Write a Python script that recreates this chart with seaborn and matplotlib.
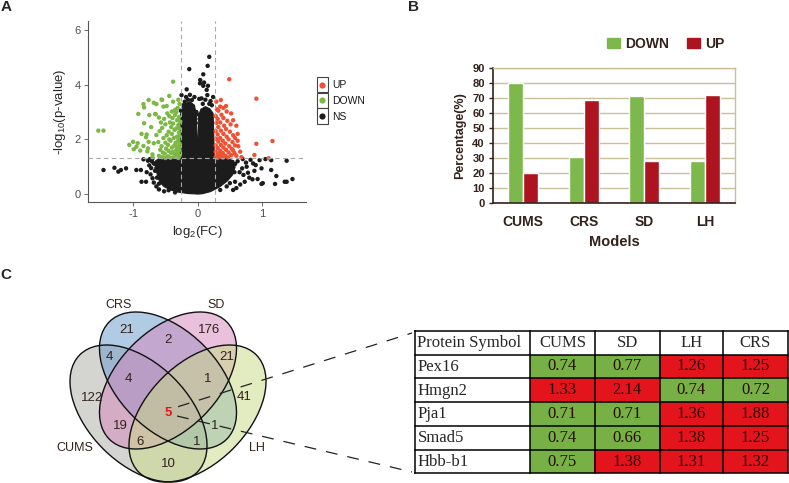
import numpy as np
import pandas as pd
import matplotlib.pyplot as plt
import seaborn as sns
from matplotlib.patches import Ellipse, Rectangle, Patch
from matplotlib.colors import ListedColormap

# ---------------- data ----------------
# A: volcano plot (log2 FC, -log10 p)
up_x = [0.49, 0.91, 1.16, 0.91, 0.88, 1.10, 0.36, 0.29, 0.30, 0.45, 0.52, 0.55, 0.60, 0.62, 0.58, 0.63, 0.66, 0.60, 0.68, 0.55,
        0.28, 0.28, 0.28, 0.29, 0.28, 0.29, 0.28, 0.31, 0.32, 0.31, 0.32, 0.31, 0.32, 0.31, 0.32,
        0.35, 0.35, 0.36, 0.35, 0.36, 0.35, 0.37, 0.39, 0.39, 0.40, 0.39, 0.40, 0.41, 0.40,
        0.43, 0.44, 0.43, 0.45, 0.44, 0.46, 0.47, 0.48, 0.49, 0.48, 0.50, 0.51,
        0.52, 0.53, 0.54, 0.55, 0.57, 0.58, 0.62, 0.40, 0.35, 0.44, 0.30, 0.33, 0.37]
up_y = [4.20, 3.49, 1.94, 1.84, 1.43, 1.31, 3.44, 3.38, 3.10, 3.02, 2.95, 2.70, 2.50, 2.20, 2.05, 1.75, 1.55, 1.40, 1.35, 1.60,
        1.35, 1.55, 1.78, 2.02, 2.30, 2.60, 2.85, 1.32, 1.48, 1.68, 1.92, 2.18, 2.45, 2.75, 3.05,
        1.38, 1.58, 1.80, 2.05, 2.32, 2.62, 2.90, 1.33, 1.50, 1.70, 1.95, 2.20, 2.50, 2.78,
        1.40, 1.62, 1.85, 2.10, 2.38, 2.68, 1.34, 1.52, 1.75, 2.00, 2.28, 2.55,
        1.42, 1.65, 1.90, 2.15, 1.50, 1.78, 1.95, 3.15, 3.20, 3.22, 1.45, 1.40, 1.46]

down_x = [-1.54, -1.46, -1.06, -1.00, -0.99, -0.93, -0.95, -0.89, -0.92, -0.84, -0.83, -0.83, -0.80, -0.84, -0.87,
          -0.77, -0.78, -0.76, -0.75, -0.79, -0.76, -0.68, -0.64, -0.65, -0.66, -0.64, -0.68, -0.56, -0.55, -0.53,
          -0.48, -0.44, -0.38, -0.38, -0.35, -0.70, -0.72, -0.70,
          -0.60, -0.58, -0.61, -0.59, -0.57, -0.60, -0.55, -0.54, -0.56, -0.53, -0.55, -0.52,
          -0.50, -0.51, -0.49, -0.50, -0.48, -0.50, -0.47, -0.46, -0.45, -0.46, -0.44, -0.45, -0.43, -0.44,
          -0.42, -0.41, -0.40, -0.42, -0.40, -0.41, -0.39, -0.40, -0.37, -0.38, -0.36, -0.37, -0.36, -0.38, -0.35,
          -0.34, -0.33, -0.34, -0.32, -0.33, -0.32, -0.33, -0.31, -0.30, -0.30, -0.29, -0.30, -0.29, -0.30, -0.29,
          -0.28, -0.28, -0.28, -0.28, -0.28, -0.27, -0.28, -0.30, -0.31, -0.35, -0.29, -0.33]
down_y = [2.32, 2.32, 1.80, 1.91, 1.64, 1.86, 1.73, 1.59, 2.93, 3.29, 3.17, 2.59, 2.08, 1.76, 2.20,
          1.67, 1.56, 3.44, 2.89, 2.18, 1.91, 3.34, 3.29, 2.92, 2.93, 2.16, 1.86, 3.46, 3.44, 3.20,
          3.22, 3.59, 4.11, 3.38, 3.08, 1.45, 2.45, 1.35,
          1.40, 1.62, 1.90, 2.30, 2.62, 2.80, 1.35, 1.52, 1.75, 2.05, 2.42, 2.75,
          1.32, 1.48, 1.66, 1.88, 2.15, 2.55, 2.95, 1.38, 1.58, 1.80, 2.00, 2.28, 2.62, 2.85,
          1.33, 1.50, 1.70, 1.95, 2.20, 2.45, 2.78, 3.02, 1.36, 1.55, 1.78, 2.05, 2.35, 2.58, 2.90,
          1.42, 1.62, 1.88, 2.10, 2.40, 2.70, 3.00, 3.15, 1.32, 1.52, 1.72, 1.98, 2.25, 2.52, 2.82,
          1.40, 1.62, 1.85, 2.12, 2.40, 2.65, 3.30, 3.45, 1.45, 1.47, 1.60, 1.75]

ns_x = [-0.13, 0.18, 0.155, 0.087, 0.036, 0.10, 0.087, 0.16, 0.14, 0.025, -0.17, -0.12, -0.09, -0.20, -0.25,
        -0.18, 0.06, 0.12, 0.20, 0.22, 0.08, -0.05, -0.22, 0.04, 0.15, -0.15, 0.24, -0.26, 0.18,
        -1.46, -1.29, -1.23, -1.19, -1.11, -0.95, -0.88, -0.87, -0.80, -0.84, -0.77, -0.75, -0.72, -0.73,
        -0.70, -0.79, -0.68, -0.74, -0.70, -0.64, -0.60, -0.52, -0.68, -0.71, -0.66, -0.62,
        0.86, 0.90, 1.14, 1.38, 1.14, 1.22, 1.20, 1.35, 1.38, 1.47, 0.99, 1.01, 0.73, 0.71, 0.69, 0.96,
        0.99, 0.85, 0.78, 0.80, 0.75, 0.82, 0.66, 0.60, 0.93, 0.65, 0.62, 0.70, 0.58, 0.76, 0.88, 0.55, 1.05,
        -0.45, -0.35, 0.35, 0.45, -0.60, 0.50, -0.63, 0.57, 0.58, -0.64, -0.66,
        -0.03, 0.03, -0.02, 0.02]
ns_y = [4.57, 5.02, 4.69, 4.38, 4.05, 4.08, 3.96, 3.96, 3.81, 3.48, 3.83, 3.63, 3.44, 3.38, 3.62,
        3.55, 3.50, 3.45, 3.40, 3.25, 3.30, 3.55, 3.25, 4.17, 3.62, 3.45, 3.55, 3.05, 3.30,
        0.88, 0.96, 0.82, 0.88, 0.94, 0.88, 0.88, 0.45, 0.45, 1.27, 1.22, 1.05, 0.95, 0.72,
        0.58, 0.80, 1.12, 1.28, 1.30, 0.28, 0.17, 0.10, 0.42, 1.20, 0.85, 1.05,
        1.12, 1.06, 1.24, 1.22, 0.88, 0.66, 0.37, 0.45, 0.45, 0.55, 0.37, 0.40, 0.45, 0.70, 0.94, 1.24,
        0.94, 0.54, 0.78, 0.60, 1.15, 1.25, 0.35, 0.22, 0.55, 0.80, 1.20, 1.28, 0.45, 1.00, 0.85, 0.15, 1.28,
        0.14, 0.06, 0.15, 0.28, 0.38, 0.40, 0.60, 0.80, 1.10, 0.95, 1.10,
        2.60, 2.75, 3.00, 2.90]

# outline of the solid black (NS) cloud
core_x = [0.00, -0.15, -0.30, -0.42, -0.52, -0.58, -0.62, -0.64, -0.66, -0.60, -0.27, -0.27, -0.25, -0.20, -0.12, -0.05,
          -0.02, -0.008, 0.008, 0.02, 0.05, 0.12, 0.19, 0.24, 0.26, 0.45, 0.56, 0.58, 0.54, 0.46, 0.34, 0.20, 0.07]
core_y = [0.00, 0.02, 0.07, 0.15, 0.27, 0.42, 0.62, 0.88, 1.20, 1.30, 1.30, 2.85, 3.10, 3.30, 3.38, 3.25,
          2.90, 2.05, 2.05, 2.90, 3.10, 3.20, 3.12, 2.95, 1.30, 1.30, 1.22, 0.98, 0.70, 0.48, 0.26, 0.09, 0.01]

# B: percentage of down / up regulated proteins
models = ['CUMS', 'CRS', 'SD', 'LH']
pct_down = [80, 30.5, 71.5, 28]
pct_up = [20, 69, 28, 72]

# C: venn counts
venn_sets = ['CUMS', 'CRS', 'SD', 'LH']
venn_counts = [122, 21, 176, 41, 4, 2, 21, 4, 1, 19, 1, 6, 1, 10, 5]

# C: table of fold changes for the 5 shared proteins
proteins = ['Pex16', 'Hmgn2', 'Pja1', 'Smad5', 'Hbb-b1']
table_cols = ['CUMS', 'SD', 'LH', 'CRS']
fold_change = [[0.74, 0.77, 1.26, 1.25],
               [1.33, 2.14, 0.74, 0.72],
               [0.71, 0.71, 1.36, 1.88],
               [0.74, 0.66, 1.38, 1.25],
               [0.75, 1.38, 1.31, 1.32]]

# ---------------- style ----------------
sns.set_style('white')
plt.rcParams['font.family'] = ['Liberation Sans', 'DejaVu Sans']
plt.rcParams['mathtext.fontset'] = 'custom'
plt.rcParams['mathtext.rm'] = 'Liberation Sans'
plt.rcParams['mathtext.default'] = 'regular'
plt.rcParams['axes.unicode_minus'] = False

c_up, c_down, c_ns = '#EE5134', '#7CB844', '#1c1c1c'
bar_green, bar_red = '#7DB84C', '#AE1420'
brown = '#33211a'
cell_green, cell_red = '#77B145', '#E3141B'

W, H = 789, 483
fig = plt.figure(figsize=(W / 100, H / 100), dpi=100)


def box(l, t, r, b):
    # pixel box -> figure fraction
    return [l / W, 1 - b / H, (r - l) / W, (b - t) / H]


# ---------------- A: volcano ----------------
axA = fig.add_axes(box(88, 21, 306, 202))
vdf = pd.DataFrame({'x': ns_x + down_x + up_x,
                    'y': ns_y + down_y + up_y,
                    'group': ['NS'] * len(ns_x) + ['DOWN'] * len(down_x) + ['UP'] * len(up_x)})
axA.fill(core_x, core_y, color=c_ns, lw=0.8, ec=c_ns, zorder=1)
sns.scatterplot(data=vdf, x='x', y='y', hue='group', palette={'NS': c_ns, 'DOWN': c_down, 'UP': c_up},
                s=10, linewidth=0, legend=False, ax=axA, zorder=2)
for xv in (-0.263, 0.263):
    axA.axvline(xv, color='#A8A8A8', lw=0.8, ls=(0, (4, 3)), zorder=3)
axA.axhline(1.301, color='#A8A8A8', lw=0.8, ls=(0, (4, 3)), zorder=3)
axA.set_xlim(-1.70, 1.68)
axA.set_ylim(-0.29, 6.33)
axA.set_xticks([-1, 0, 1])
axA.set_yticks([0, 2, 4, 6])
for s in ['top', 'right']:
    axA.spines[s].set_visible(False)
for s in ['left', 'bottom']:
    axA.spines[s].set_color('#555555')
    axA.spines[s].set_linewidth(0.8)
axA.tick_params(length=3, width=0.6, color='#555555', labelsize=8, labelcolor='#4d4d4d', pad=2,
                left=True, bottom=True)
axA.set_xlabel('log$_2$(FC)', fontsize=9.5, labelpad=4)
axA.set_ylabel('-log$_{10}$(p-value)', fontsize=9.5, labelpad=5)

# ---------------- B: bar chart ----------------
axB = fig.add_axes(box(493, 68, 735, 203))
bdf = pd.DataFrame({'model': models * 2, 'pct': pct_down + pct_up,
                    'dir': ['DOWN'] * len(models) + ['UP'] * len(models)})
sns.barplot(data=bdf, x='model', y='pct', hue='dir', palette={'DOWN': bar_green, 'UP': bar_red},
            width=0.5, saturation=1, legend=False, ax=axB, zorder=2)
axB.set_ylim(0, 90)
axB.set_xlim(-0.5, 3.5)
axB.set_yticks(range(0, 91, 10))
axB.yaxis.grid(True, color='#C9BF98', lw=1.0)
axB.set_axisbelow(True)
for s in ['left', 'bottom']:
    axB.spines[s].set_color(brown)
    axB.spines[s].set_linewidth(1.2)
for s in ['top', 'right']:
    axB.spines[s].set_color('#C9BF98')
    axB.spines[s].set_linewidth(1.0)
axB.tick_params(axis='y', length=3, width=1, color=brown, labelsize=8, labelcolor=brown, pad=3, left=True)
axB.tick_params(axis='x', length=0, labelsize=10, labelcolor=brown, pad=9)
for lab in axB.get_xticklabels() + axB.get_yticklabels():
    lab.set_fontweight('bold')
axB.set_xlabel('Models', fontsize=10.5, fontweight='bold', color=brown, labelpad=4)
axB.set_ylabel('Percentage(%)', fontsize=9, fontweight='bold', color=brown, labelpad=4)
fig.legend(handles=[Patch(color=bar_green, label='DOWN'), Patch(color=bar_red, label='UP')],
           loc='center', bbox_to_anchor=(666 / W, 1 - 44 / H), ncol=2, frameon=False,
           prop={'weight': 'bold', 'size': 10}, labelcolor=brown,
           handlelength=0.9, handleheight=0.8, handletextpad=0.4, columnspacing=1.3)

# ---------------- C: venn (pixel coordinates) ----------------
axV = fig.add_axes(box(40, 295, 300, 483))
axV.set_xlim(40, 300)
axV.set_ylim(483, 295)
axV.axis('off')
ell_centers = [(138.5, 413.5), (168, 380.5), (168, 380.5), (197.5, 413.5)]
ell_angles = [45, 45, -45, -45]
ell_colors = ['#ABADA3', '#6799CD', '#D585BB', '#C9DB85']
ell_w, ell_h = 166, 100
for (cx, cy), ang, col in zip(ell_centers, ell_angles, ell_colors):
    axV.add_patch(Ellipse((cx, cy), ell_w, ell_h, angle=ang, fc=col, ec='none', alpha=0.5))
for (cx, cy), ang in zip(ell_centers, ell_angles):
    axV.add_patch(Ellipse((cx, cy), ell_w, ell_h, angle=ang, fc='none', ec='#111111', lw=1.0, clip_on=False))
count_pos = [(91.7, 398.3), (126.7, 330), (209.3, 330), (244.3, 396.7), (109.3, 356.7), (168, 340),
             (226.7, 356.7), (128.3, 379), (208, 379), (120, 426), (215, 426), (140, 441.7),
             (196.5, 441.7), (168, 464.3), (168, 413.3)]
for k, (n, (px, py)) in enumerate(zip(venn_counts, count_pos)):
    core = k == len(venn_counts) - 1
    axV.text(px, py, str(n), ha='center', va='center', fontsize=9.5,
             color='#E8141B' if core else brown, fontweight='bold' if core else 'normal')
set_pos = [(75, 448), (118.3, 305), (216, 305), (257, 448)]
for name, (px, py) in zip(venn_sets, set_pos):
    axV.text(px, py, name, ha='center', va='center', fontsize=9, color=brown)

# ---------------- C: table (numeric cells) ----------------
axT = fig.add_axes(box(530, 354.5, 787.7, 473.4))
fc_df = pd.DataFrame(fold_change, index=proteins, columns=table_cols)
sns.heatmap(fc_df, cmap=ListedColormap([cell_green, cell_red]), vmin=0, vmax=2, cbar=False,
            annot=True, fmt='.2f', linewidths=0, xticklabels=False, yticklabels=False,
            annot_kws={'family': 'Liberation Serif', 'size': 12, 'color': '#2a0808'}, ax=axT)
axT.set_xlabel('')
axT.set_ylabel('')

# ---------------- overlay: labels, table frame, connectors ----------------
axO = fig.add_axes([0, 0, 1, 1])
axO.set_xlim(0, W)
axO.set_ylim(H, 0)
axO.axis('off')

for lab, (px, py) in zip(['A', 'B', 'C'], [(6, 7), (414, 7), (6, 275)]):
    axO.text(px, py, lab, ha='center', va='center', fontsize=11, fontweight='bold')

# ggplot-style legend for A
for i, (lab, col) in enumerate([('UP', c_up), ('DOWN', c_down), ('NS', c_ns)]):
    top = 76.7 + i * 15.8
    axO.add_patch(Rectangle((316.7, top), 11.6, 15.8, fc='white', ec='#444444', lw=0.8))
    axO.scatter([322.5], [top + 7.9], s=20, color=col, lw=0, zorder=5)
    axO.text(332, top + 8.2, lab, ha='left', va='center', fontsize=7.5, color='#1a1a1a')

# table frame and header
row_edges = [330.7, 354.5, 378.3, 402.1, 425.8, 449.6, 473.4]
col_edges = [415, 530, 595.3, 659.7, 723.3, 787.7]
for y in row_edges:
    axO.plot([col_edges[0], col_edges[-1]], [y, y], color='black', lw=1.1, solid_capstyle='projecting')
for x in col_edges:
    axO.plot([x, x], [row_edges[0], row_edges[-1]], color='black', lw=1.1, solid_capstyle='projecting')
header = ['Protein Symbol'] + table_cols
for j, txt in enumerate(header):
    yc = (row_edges[0] + row_edges[1]) / 2 + 0.5
    if j == 0:
        axO.text(col_edges[0] + 2.5, yc, txt, ha='left', va='center', fontsize=12, family='Liberation Serif')
    else:
        axO.text((col_edges[j] + col_edges[j + 1]) / 2, yc, txt, ha='center', va='center', fontsize=12,
                 family='Liberation Serif')
for i, name in enumerate(proteins):
    yc = (row_edges[i + 1] + row_edges[i + 2]) / 2 + 0.5
    axO.text(col_edges[0] + 2.5, yc, name, ha='left', va='center', fontsize=12, family='Liberation Serif')

# dashed connectors from the venn centre to the table
axO.plot([178, 412], [406.7, 333], color='#222222', lw=0.9, ls=(0, (9.5, 8)))
axO.plot([177, 412], [416, 472], color='#222222', lw=0.9, ls=(0, (9.5, 8)))

fig.savefig('out.png', dpi=100)
